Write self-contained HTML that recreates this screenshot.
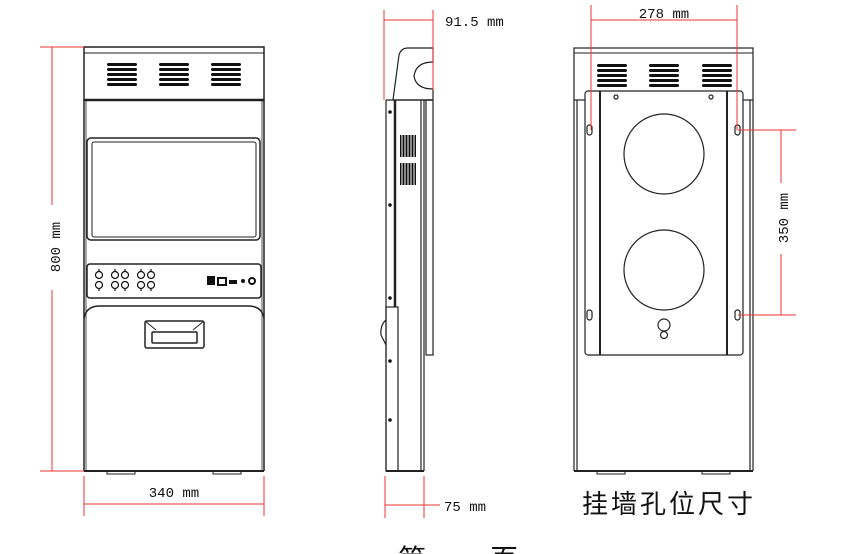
<!DOCTYPE html>
<html><head><meta charset="utf-8"><style>
html,body{margin:0;padding:0;background:#fff;width:863px;height:554px;overflow:hidden;}
svg{display:block;overflow:hidden;}
text{font-family:"Liberation Mono","DejaVu Sans Mono",monospace;fill:#111;}
</style></head><body>
<svg width="863" height="554" viewBox="0 0 863 554" xmlns="http://www.w3.org/2000/svg">
<defs>
<g id="vent"><rect x="0" y="0" width="30" height="3" rx="1.5" fill="#111"/><rect x="0" y="5" width="30" height="3" rx="1.5" fill="#111"/><rect x="0" y="10" width="30" height="3" rx="1.5" fill="#111"/><rect x="0" y="15" width="30" height="3" rx="1.5" fill="#111"/><rect x="0" y="20" width="30" height="3" rx="1.5" fill="#111"/></g>
<g id="bnc"><circle cx="0" cy="0" r="3.5" fill="none" stroke="#111" stroke-width="1.2"/><line x1="0" y1="-6" x2="0" y2="-3.5" stroke="#111" stroke-width="1.2"/><circle cx="0" cy="10" r="3.5" fill="none" stroke="#111" stroke-width="1.2"/><line x1="0" y1="13.5" x2="0" y2="16" stroke="#111" stroke-width="1.2"/></g>
<clipPath id="pg"><rect x="0" y="0" width="863" height="554"/></clipPath>
</defs>

<!-- FRONT VIEW -->
<g fill="none" stroke="#222" stroke-width="1.5">
<rect x="84" y="47" width="180" height="53"/>
<line x1="84" y1="53" x2="264" y2="53" stroke-width="1"/>
<line x1="84" y1="100" x2="264" y2="100" stroke-width="2.5"/>
<line x1="84" y1="100" x2="84" y2="471"/>
<line x1="264" y1="100" x2="264" y2="471"/>
<line x1="86" y1="100" x2="86" y2="471" stroke-width="0.8"/>
<line x1="262" y1="100" x2="262" y2="471" stroke-width="0.8"/>
<rect x="87" y="138" width="173" height="102" rx="4"/>
<rect x="92" y="142" width="164" height="95" rx="2" stroke-width="1"/>
<rect x="87" y="264" width="174" height="34" rx="3"/>
<path d="M84 318 Q86 307 98 306 L250 306 Q262 307 264 318"/>
<line x1="84" y1="471" x2="264" y2="471" stroke-width="2"/>
<rect x="145" y="321" width="59" height="27" rx="2"/>
<rect x="152" y="332" width="45" height="11" rx="1"/>
<line x1="145" y1="321" x2="156" y2="330" stroke-width="1"/>
<line x1="204" y1="321" x2="193" y2="330" stroke-width="1"/>
<rect x="107" y="471" width="28" height="3" stroke-width="1"/>
<rect x="213" y="471" width="28" height="3" stroke-width="1"/>
</g>
<use href="#vent" x="107" y="63"/><use href="#vent" x="159" y="63"/><use href="#vent" x="211" y="63"/>
<use href="#bnc" x="99" y="275"/><use href="#bnc" x="115" y="275"/><use href="#bnc" x="125" y="275"/><use href="#bnc" x="141" y="275"/><use href="#bnc" x="151" y="275"/>
<rect x="207" y="276" width="8" height="9" fill="#111"/>
<rect x="218" y="278" width="8" height="7" fill="none" stroke="#111" stroke-width="2"/>
<rect x="229" y="280" width="8" height="4" fill="#111"/>
<circle cx="243" cy="281" r="2" fill="#111"/>
<circle cx="252" cy="281" r="3" fill="none" stroke="#111" stroke-width="2"/>

<!-- front dims -->
<g stroke="#e33" stroke-width="1" fill="none">
<line x1="40" y1="47" x2="84" y2="47"/><line x1="40" y1="471" x2="84" y2="471"/>
<line x1="52" y1="47" x2="52" y2="205"/><line x1="52" y1="290" x2="52" y2="471"/>
<line x1="84" y1="476" x2="84" y2="516"/><line x1="264" y1="476" x2="264" y2="516"/>
<line x1="84" y1="504" x2="264" y2="504"/>
</g>
<text x="0" y="0" font-size="14" transform="translate(60,247) rotate(-90)" text-anchor="middle">800 mm</text>
<text x="174" y="497" font-size="14" text-anchor="middle">340 mm</text>

<!-- SIDE VIEW -->
<g fill="none" stroke="#222" stroke-width="1.2">
<path d="M393 100 L399 55 Q401 48 408 48 L433 48 L433 62 Q416 62 414 76 Q416 89 433 89 L433 100 Z"/>
<line x1="386" y1="100" x2="386" y2="471"/>
<line x1="395" y1="100" x2="395" y2="307" stroke-width="2.5"/>
<line x1="386" y1="100" x2="433" y2="100"/>
<line x1="421" y1="100" x2="421" y2="471"/>
<line x1="424" y1="100" x2="424" y2="471"/>
<rect x="426" y="100" width="7" height="255"/>
<rect x="386" y="307" width="12" height="164"/>
<line x1="386" y1="471" x2="424" y2="471" stroke-width="2"/>
<path d="M386 320 Q380 325 381 335 L386 345"/>
</g>
<g fill="#111">
<circle cx="390" cy="112" r="1.8"/><circle cx="390" cy="205" r="1.8"/><circle cx="390" cy="298" r="1.8"/><circle cx="390" cy="361" r="1.8"/><circle cx="390" cy="420" r="1.8"/>
<rect x="400" y="135" width="16" height="22"/><rect x="400" y="163" width="16" height="22"/>
</g>
<g stroke="#fff" stroke-width="1">
<line x1="402" y1="134" x2="402" y2="186"/><line x1="405" y1="134" x2="405" y2="186"/><line x1="408" y1="134" x2="408" y2="186"/><line x1="411" y1="134" x2="411" y2="186"/><line x1="414" y1="134" x2="414" y2="186"/>
</g>
<g stroke="#e33" stroke-width="1" fill="none">
<line x1="384" y1="10" x2="384" y2="100"/><line x1="433" y1="10" x2="433" y2="90"/>
<line x1="384" y1="20" x2="433" y2="20"/>
<line x1="385" y1="476" x2="385" y2="518"/><line x1="424" y1="476" x2="424" y2="518"/>
<line x1="385" y1="505" x2="440" y2="505"/>
</g>
<text x="445" y="26" font-size="14">91.5 mm</text>
<text x="444" y="511" font-size="14">75 mm</text>

<!-- BACK VIEW -->
<g fill="none" stroke="#222" stroke-width="1.2">
<rect x="574" y="48" width="179" height="52"/>
<line x1="574" y1="53" x2="753" y2="53" stroke-width="1"/>
<line x1="574" y1="100" x2="574" y2="471"/><line x1="577" y1="100" x2="577" y2="471"/>
<line x1="750" y1="100" x2="750" y2="471"/><line x1="753" y1="100" x2="753" y2="471"/>
<line x1="574" y1="471" x2="753" y2="471" stroke-width="2"/>
<rect x="585" y="91" width="158" height="264" rx="3" fill="#fff"/>
<line x1="600" y1="91" x2="600" y2="355" stroke-width="2"/>
<line x1="727" y1="91" x2="727" y2="355" stroke-width="2"/>
<circle cx="664" cy="154" r="40"/>
<circle cx="664" cy="270" r="40"/>
<circle cx="664" cy="325" r="6"/><circle cx="664" cy="335" r="3.5"/>
<rect x="587" y="125" width="5" height="10" rx="2.5"/>
<rect x="735" y="125" width="5" height="10" rx="2.5"/>
<rect x="587" y="310" width="5" height="10" rx="2.5"/>
<rect x="735" y="310" width="5" height="10" rx="2.5"/>
<circle cx="616" cy="97" r="2"/><circle cx="711" cy="97" r="2"/>
<rect x="597" y="471" width="28" height="3" stroke-width="1"/>
<rect x="702" y="471" width="28" height="3" stroke-width="1"/>
</g>
<use href="#vent" x="597" y="64"/><use href="#vent" x="649" y="64"/><use href="#vent" x="702" y="64"/>
<g stroke="#e33" stroke-width="1" fill="none">
<line x1="591" y1="5" x2="591" y2="130"/><line x1="737" y1="5" x2="737" y2="130"/>
<line x1="591" y1="20" x2="737" y2="20"/>
<line x1="738" y1="130" x2="796" y2="130"/><line x1="738" y1="315" x2="796" y2="315"/>
<line x1="781" y1="130" x2="781" y2="183"/><line x1="781" y1="254" x2="781" y2="315"/>
</g>
<text x="664" y="18" font-size="14" text-anchor="middle">278 mm</text>
<text x="0" y="0" font-size="14" transform="translate(788,218) rotate(-90)" text-anchor="middle">350 mm</text>
<text x="582" y="513" font-size="26" letter-spacing="3" style='font-family:"Liberation Sans","Noto Sans CJK SC",sans-serif'>挂墙孔位尺寸</text>
<g clip-path="url(#pg)"><text x="398" y="569" font-size="28" letter-spacing="18" style='font-family:"Liberation Sans","Noto Sans CJK SC",sans-serif'>第一页</text></g>
</svg>
</body></html>
